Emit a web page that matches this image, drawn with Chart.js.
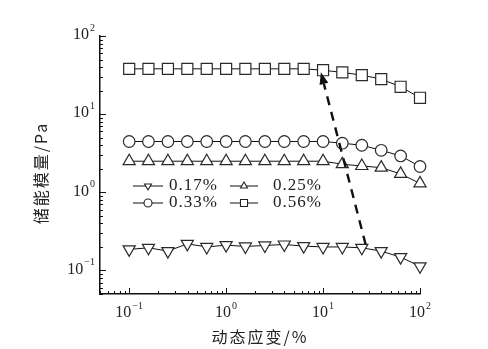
<!DOCTYPE html>
<html lang="zh">
<head>
<meta charset="UTF-8">
<title>储能模量</title>
<style>
  html, body { margin: 0; padding: 0; background: #fff; }
  #wrap { width: 488px; height: 349px; }
</style>
</head>
<body>
<div id="wrap"><canvas id="modulusChart" width="488" height="349"></canvas></div>

<script src="https://cdn.jsdelivr.net/npm/chart.js"></script>
<script>
  // 动态应变 (%)
  const strain = [0.1, 0.158, 0.251, 0.398, 0.631, 1, 1.58, 2.51, 3.98, 6.31, 10, 15.8, 25.1, 39.8, 63.1, 100];

  // 储能模量 (Pa)
  const g017 = [0.186, 0.195, 0.177, 0.219, 0.200, 0.211, 0.203, 0.209, 0.215, 0.205, 0.200, 0.200, 0.195, 0.177, 0.148, 0.113];
  const g025 = [2.5, 2.5, 2.5, 2.5, 2.5, 2.5, 2.5, 2.5, 2.5, 2.5, 2.5, 2.29, 2.17, 2.07, 1.72, 1.30];
  const g033 = [4.47, 4.47, 4.47, 4.47, 4.47, 4.47, 4.47, 4.47, 4.47, 4.47, 4.47, 4.25, 4.0, 3.45, 2.92, 2.14];
  const g056 = [38, 38, 38, 38, 38, 38, 38, 38, 38, 38, 36.5, 34.2, 31.6, 28.1, 22.4, 16.2];

  const seriesLabels = ['0.17%', '0.25%', '0.33%', '0.56%'];
  const decadeTicks = [0.1, 1, 10, 100];
  const decadeExps = ['\u22121', '0', '1', '2'];

  // 虚线箭头（数据坐标）
  const arrowTail = [27.5, 0.215];
  const arrowHead = [9.5, 34.3];

  const SERIF = '"Liberation Serif", "DejaVu Serif", serif';
  const CJK = '"Noto Sans CJK SC", sans-serif';

  const styles = [
    { pointStyle: 'triangle', rotation: 180, radius: 7 },
    { pointStyle: 'triangle', rotation: 0, radius: 7 },
    { pointStyle: 'circle', rotation: 0, radius: 5.8 },
    { pointStyle: 'rect', rotation: 0, radius: 7.8 }
  ];

  function makeSet(label, values, st) {
    return {
      label: label,
      data: strain.map((x, i) => ({ x: x, y: values[i] })),
      borderColor: '#111',
      borderWidth: 1,
      pointStyle: st.pointStyle,
      pointRotation: st.rotation,
      pointRadius: st.radius,
      pointHoverRadius: st.radius,
      pointBorderColor: '#2a2a2a',
      pointBackgroundColor: '#fff',
      pointBorderWidth: 1.2,
      tension: 0,
      clip: false
    };
  }

  // 10^n 形式的刻度标签
  function drawPower(ctx, exp, x, y, align) {
    ctx.font = '16px ' + SERIF;
    const baseW = ctx.measureText('10').width;
    ctx.font = '10px ' + SERIF;
    const expW = ctx.measureText(exp).width;
    const total = baseW + 1 + expW;
    const left = align === 'right' ? x - total : x - total / 2;
    ctx.textAlign = 'left';
    ctx.textBaseline = 'middle';
    ctx.font = '16px ' + SERIF;
    ctx.fillText('10', left, y);
    ctx.font = '10px ' + SERIF;
    ctx.fillText(exp, left + baseW + 1, y - 7);
  }

  function minorValues(min, max) {
    const out = [];
    for (let e = -2; e <= 2; e++) {
      for (let m = 1; m <= 9; m++) {
        const v = m * Math.pow(10, e);
        if (v >= min - 1e-9 && v <= max + 1e-9) out.push({ v: v, major: m === 1 });
      }
    }
    return out;
  }

  const decorPlugin = {
    id: 'decor',
    afterDatasetsDraw(chart) {
      const ctx = chart.ctx;
      const xs = chart.scales.x, ys = chart.scales.y;
      const area = chart.chartArea;

      // 箭头
      const x0 = xs.getPixelForValue(arrowTail[0]), y0 = ys.getPixelForValue(arrowTail[1]);
      const x1 = xs.getPixelForValue(arrowHead[0]), y1 = ys.getPixelForValue(arrowHead[1]);
      const ang = Math.atan2(y1 - y0, x1 - x0);
      const headLen = 12, headHalf = 4.5;
      const bx = x1 - Math.cos(ang) * headLen, by = y1 - Math.sin(ang) * headLen;
      ctx.save();
      ctx.strokeStyle = '#111';
      ctx.lineWidth = 2.4;
      ctx.setLineDash([9, 7]);
      ctx.beginPath();
      ctx.moveTo(x0, y0);
      ctx.lineTo(bx, by);
      ctx.stroke();
      ctx.setLineDash([]);
      ctx.fillStyle = '#111';
      ctx.beginPath();
      ctx.moveTo(x1, y1);
      ctx.lineTo(bx + Math.sin(ang) * headHalf, by - Math.cos(ang) * headHalf);
      ctx.lineTo(bx - Math.sin(ang) * headHalf, by + Math.cos(ang) * headHalf);
      ctx.closePath();
      ctx.fill();
      ctx.restore();

      // 图例（两列两行）
      const cols = [{ l: area.left + 33, r: area.left + 63, t: area.left + 69 },
                    { l: area.left + 130, r: area.left + 158, t: area.left + 173 }];
      const rows = [area.top + 150, area.top + 167];
      const order = [[0, 0, 0], [1, 1, 0], [2, 0, 1], [3, 1, 1]];
      ctx.save();
      order.forEach(([idx, c, r]) => {
        const col = cols[c], y = rows[r];
        ctx.strokeStyle = '#111';
        ctx.lineWidth = 1;
        ctx.beginPath();
        ctx.moveTo(col.l, y);
        ctx.lineTo(col.r, y);
        ctx.stroke();
        ctx.fillStyle = '#fff';
        ctx.strokeStyle = '#222';
        ctx.lineWidth = 1.1;
        Chart.helpers.drawPoint(ctx, {
          pointStyle: styles[idx].pointStyle,
          rotation: styles[idx].rotation,
          radius: styles[idx].pointStyle === 'rect' ? 5 : 4,
          borderWidth: 1.1
        }, (col.l + col.r) / 2, y);
        ctx.fillStyle = '#222';
        ctx.font = '17px ' + SERIF;
        ctx.letterSpacing = '1px';
        ctx.textAlign = 'left';
        ctx.textBaseline = 'middle';
        ctx.fillText(seriesLabels[idx], col.t, y);
        ctx.letterSpacing = '0px';
      });
      ctx.restore();
    },
    afterDraw(chart) {
      const ctx = chart.ctx;
      const xs = chart.scales.x, ys = chart.scales.y;
      const area = chart.chartArea;
      ctx.save();
      ctx.strokeStyle = '#111';
      ctx.lineWidth = 1;

      // 向内的刻度线
      minorValues(xs.min, xs.max).forEach(t => {
        const px = Math.round(xs.getPixelForValue(t.v)) + 0.5;
        ctx.beginPath();
        ctx.moveTo(px, area.bottom);
        ctx.lineTo(px, area.bottom - (t.major ? 6 : 3));
        ctx.stroke();
      });
      minorValues(ys.min, ys.max).forEach(t => {
        const py = Math.round(ys.getPixelForValue(t.v)) + 0.5;
        ctx.beginPath();
        ctx.moveTo(area.left, py);
        ctx.lineTo(area.left + (t.major ? 6 : 3), py);
        ctx.stroke();
      });

      // 刻度标签
      ctx.fillStyle = '#222';
      decadeTicks.forEach((v, i) => {
        drawPower(ctx, decadeExps[i], xs.getPixelForValue(v), area.bottom + 19, 'center');
        drawPower(ctx, decadeExps[i], area.left - 5, ys.getPixelForValue(v) - 1, 'right');
      });

      // 坐标轴标题
      ctx.font = '16px ' + CJK;
      ctx.letterSpacing = '2px';
      ctx.textAlign = 'center';
      ctx.textBaseline = 'middle';
      ctx.fillText('动态应变/%', (area.left + area.right) / 2, area.bottom + 43);
      ctx.save();
      ctx.translate(41, (area.top + area.bottom) / 2 + 8);
      ctx.rotate(-Math.PI / 2);
      ctx.fillText('储能模量/Pa', 0, 0);
      ctx.restore();
      ctx.letterSpacing = '0px';
      ctx.restore();
    }
  };

  const ctx = document.getElementById('modulusChart').getContext('2d');
  new Chart(ctx, {
    type: 'line',
    data: {
      datasets: [
        makeSet(seriesLabels[0], g017, styles[0]),
        makeSet(seriesLabels[1], g025, styles[1]),
        makeSet(seriesLabels[2], g033, styles[2]),
        makeSet(seriesLabels[3], g056, styles[3])
      ]
    },
    options: {
      responsive: false,
      animation: false,
      devicePixelRatio: 1,
      layout: { padding: { left: 100, right: 68, top: 36, bottom: 55 } },
      plugins: {
        legend: { display: false },
        tooltip: { enabled: false }
      },
      scales: {
        x: {
          type: 'logarithmic',
          min: 0.05,
          max: 100,
          grid: { display: false, drawTicks: false },
          border: { display: true, color: '#111', width: 1.5 },
          ticks: { display: false },
          afterFit: s => { s.height = 0; }
        },
        y: {
          type: 'logarithmic',
          min: 0.05,
          max: 100,
          grid: { display: false, drawTicks: false },
          border: { display: true, color: '#111', width: 1.5 },
          ticks: { display: false },
          afterFit: s => { s.width = 0; }
        }
      }
    },
    plugins: [decorPlugin]
  });
</script>
</body>
</html>
